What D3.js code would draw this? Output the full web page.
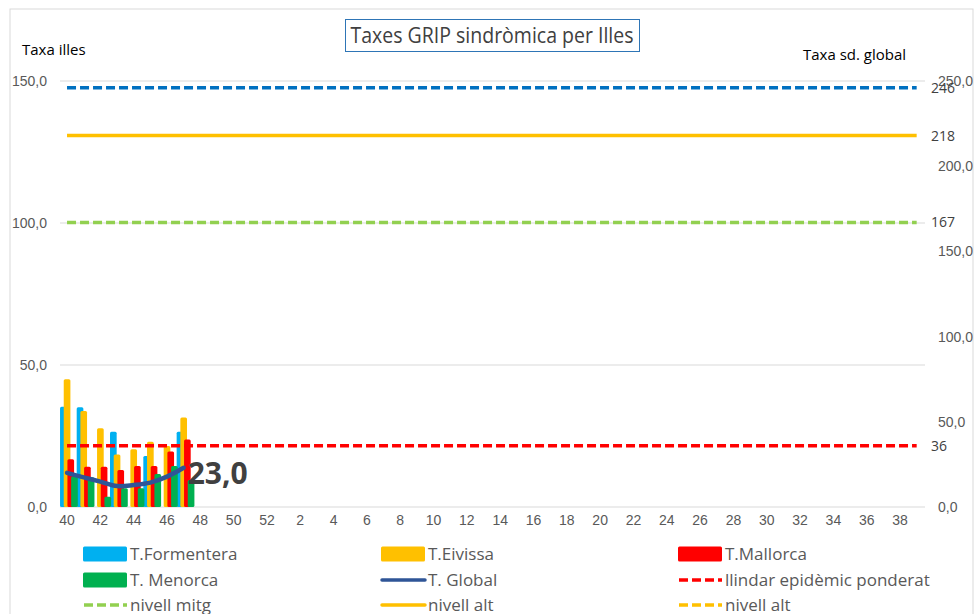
<!DOCTYPE html>
<html>
<head>
<meta charset="utf-8">
<script src="https://cdn.jsdelivr.net/npm/d3@7/dist/d3.min.js"></script>
<style>
	body { margin: 0; background: #fff; }
	svg { display: block; font-family: 'Open Sans', sans-serif; }
</style>
</head>
<body>
<script>
// weeks of the season: 40..52 then 1..39
var weeks = d3.range(40, 53).concat(d3.range(1, 40));
var dataWeeks = [40, 41, 42, 43, 44, 45, 46, 47];

var formentera = [35.3, 35.1, 0, 26.5, 0, 18.0, 0, 26.5];
var eivissa = [45.0, 33.8, 27.7, 18.5, 20.3, 23.0, 21.5, 31.5];
var mallorca = [16.8, 14.2, 14.2, 13.0, 14.4, 14.4, 19.5, 23.8];
var menorca = [10.7, 10.5, 3.6, 6.6, 6.6, 11.6, 14.4, 9.5];
var global = [20.0, 17.4, 14.9, 12.3, 12.9, 14.3, 17.8, 23.0];

var leftTicks = [0, 50, 100, 150];
var rightTicks = [0, 50, 100, 150, 200, 250];

// horizontal levels, on the right axis
var levels = [
	{ name: 'nivell molt alt', value: 246, color: '#0070C0', dash: '9,4' },
	{ name: 'nivell alt', value: 218, color: '#FFC000', dash: null },
	{ name: 'nivell mitg', value: 167, color: '#92D050', dash: '9,4' },
	{ name: 'llindar epidèmic ponderat', value: 36, color: '#FF0000', dash: '9,4' }
];

var barSeries = [
	{ name: 'T.Formentera', values: formentera, color: '#00B0F0' },
	{ name: 'T.Eivissa', values: eivissa, color: '#FFC000' },
	{ name: 'T.Mallorca', values: mallorca, color: '#FF0000' },
	{ name: 'T. Menorca', values: menorca, color: '#00B050' }
];

var legendItems = [
	{ name: 'T.Formentera', type: 'rect', color: '#00B0F0' },
	{ name: 'T.Eivissa', type: 'rect', color: '#FFC000' },
	{ name: 'T.Mallorca', type: 'rect', color: '#FF0000' },
	{ name: 'T. Menorca', type: 'rect', color: '#00B050' },
	{ name: 'T. Global', type: 'line', color: '#2F5597', dash: null },
	{ name: 'llindar epidèmic ponderat', type: 'line', color: '#FF0000', dash: '9,4' },
	{ name: 'nivell mitg', type: 'line', color: '#92D050', dash: '9,4' },
	{ name: 'nivell alt', type: 'line', color: '#FFC000', dash: null },
	{ name: 'nivell alt', type: 'line', color: '#FFC000', dash: '9,4' }
];

var width = 976, height = 614;

var svg = d3.select('body').append('svg')
	.attr('width', width)
	.attr('height', height);

svg.append('rect')
	.attr('x', 10).attr('y', 9)
	.attr('width', 963).attr('height', 620)
	.attr('fill', '#fff')
	.attr('stroke', '#D9D9D9');

var x = d3.scaleBand()
	.domain(weeks)
	.range([58.7, 925]);
var bw = x.bandwidth();

var yL = d3.scaleLinear().domain([0, 150]).range([507, 81]);
var yR = d3.scaleLinear().domain([0, 250]).range([507, 81]);

// position of a series inside one week
var xs = d3.scaleLinear().domain([0, 3]).range([bw * 0.08, bw * 0.746]);
var barW = bw * 0.4;

var fmt = function(d) { return d3.format('.1f')(d).replace('.', ','); };

// gridlines
svg.append('g').selectAll('line')
	.data(leftTicks)
	.enter().append('line')
	.attr('x1', 60).attr('x2', 925)
	.attr('y1', function(d) { return yL(d); })
	.attr('y2', function(d) { return yL(d); })
	.attr('stroke', '#D9D9D9')
	.attr('stroke-width', 1);

// left axis
var leftAxis = svg.append('g')
	.attr('transform', 'translate(47,0)')
	.call(d3.axisLeft(yL).tickValues(leftTicks).tickSize(0).tickPadding(0).tickFormat(fmt));
leftAxis.select('.domain').remove();
leftAxis.selectAll('text').attr('fill', '#595959').style('font-size', '14px');

// right axis
var rightAxis = svg.append('g')
	.attr('transform', 'translate(938,0)')
	.call(d3.axisRight(yR).tickValues(rightTicks).tickSize(0).tickPadding(0).tickFormat(fmt));
rightAxis.select('.domain').remove();
rightAxis.selectAll('text').attr('fill', '#595959').style('font-size', '14px');

// bottom axis
var bottomAxis = svg.append('g')
	.attr('transform', 'translate(0,515)')
	.call(d3.axisBottom(x).tickSize(0).tickPadding(0)
		.tickValues(weeks.filter(function(d, i) { return i % 2 === 0; })));
bottomAxis.select('.domain').remove();
bottomAxis.selectAll('text').attr('fill', '#595959').style('font-size', '14px');

// bars
barSeries.forEach(function(s, si) {
	svg.append('g').selectAll('rect')
		.data(s.values)
		.enter().append('rect')
		.attr('x', function(d, i) { return x(dataWeeks[i]) + xs(si); })
		.attr('y', function(d) { return yL(d); })
		.attr('width', barW)
		.attr('height', function(d) { return yL(0) - yL(d); })
		.attr('rx', 1.5)
		.attr('fill', s.color);
});

// level lines
var xFirst = x(weeks[0]) + bw / 2;
var xLast = x(weeks[weeks.length - 1]) + bw / 2;

levels.forEach(function(l) {
	svg.append('line')
		.attr('x1', xFirst).attr('x2', xLast)
		.attr('y1', yR(l.value)).attr('y2', yR(l.value))
		.attr('stroke', l.color)
		.attr('stroke-width', 3.5)
		.attr('stroke-dasharray', l.dash);
	svg.append('text')
		.attr('x', 931)
		.attr('y', yR(l.value) + 5)
		.attr('fill', '#404040')
		.style('font-size', '14px')
		.text(l.value);
});

// global line
var line = d3.line()
	.x(function(d, i) { return x(dataWeeks[i]) + bw / 2; })
	.y(function(d) { return yR(d); })
	.curve(d3.curveCatmullRom);

svg.append('path')
	.datum(global)
	.attr('d', line)
	.attr('fill', 'none')
	.attr('stroke', '#2F5597')
	.attr('stroke-width', 4.5)
	.attr('stroke-linecap', 'round');

var lastVal = global[global.length - 1];
svg.append('text')
	.attr('x', x(dataWeeks[dataWeeks.length - 1]) + bw / 2 + 4)
	.attr('y', yR(lastVal) + 16)
	.attr('fill', '#404040')
	.style('font-size', '30px')
	.style('font-weight', 'bold')
	.text(fmt(lastVal));

// title
svg.append('rect')
	.attr('x', 345.5).attr('y', 19.5)
	.attr('width', 294).attr('height', 32)
	.attr('fill', '#fff')
	.attr('stroke', '#2E75B6');
svg.append('text')
	.attr('x', 492).attr('y', 43)
	.attr('text-anchor', 'middle')
	.attr('fill', '#404040')
	.attr('textLength', 283)
	.attr('lengthAdjust', 'spacingAndGlyphs')
	.style('font-size', '21px')
	.text('Taxes GRIP sindròmica per Illes');

svg.append('text')
	.attr('x', 22).attr('y', 55)
	.attr('fill', '#000')
	.style('font-size', '15px')
	.text('Taxa illes');
svg.append('text')
	.attr('x', 803).attr('y', 60)
	.attr('fill', '#000')
	.style('font-size', '15px')
	.text('Taxa sd. global');

// legend
var colX = [83, 381, 678];
var rowY = [554, 580, 605];

legendItems.forEach(function(item, i) {
	var g = svg.append('g')
		.attr('transform', 'translate(' + colX[i % 3] + ',' + rowY[Math.floor(i / 3)] + ')');
	if (item.type === 'rect') {
		g.append('rect')
			.attr('x', 0).attr('y', -7.5)
			.attr('width', 44).attr('height', 15)
			.attr('rx', 1.5)
			.attr('fill', item.color);
	} else {
		g.append('line')
			.attr('x1', 1).attr('x2', 44)
			.attr('stroke', item.color)
			.attr('stroke-width', 3.5)
			.attr('stroke-linecap', item.dash ? 'butt' : 'round')
			.attr('stroke-dasharray', item.dash);
	}
	g.append('text')
		.attr('x', 47).attr('y', 6)
		.attr('fill', '#595959')
		.style('font-size', '17px')
		.text(item.name);
});
</script>
</body>
</html>
